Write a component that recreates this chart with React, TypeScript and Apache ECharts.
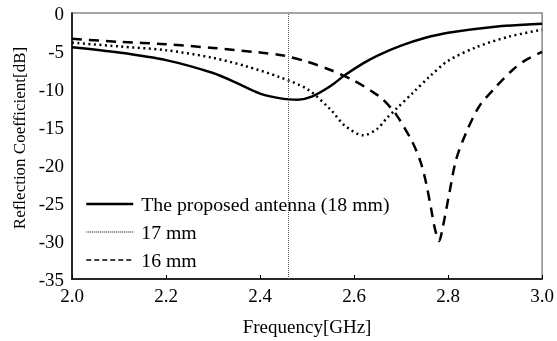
import React, { useEffect, useRef } from "react";
import * as echarts from "echarts";

const xTicks = [2.0, 2.2, 2.4, 2.6, 2.8, 3.0];
const seriesNames = ["The proposed antenna (18 mm)", "17 mm", "16 mm"];

const freq18 = [2.0, 2.1, 2.2, 2.3, 2.35, 2.4, 2.45, 2.48, 2.51, 2.55, 2.58, 2.62, 2.65, 2.7, 2.75, 2.8, 2.9, 3.0];
const s18 = [-4.5, -5.2, -6.2, -7.9, -9.2, -10.6, -11.3, -11.4, -11.0, -9.6, -8.2, -6.6, -5.6, -4.3, -3.3, -2.6, -1.8, -1.4];

const freq17 = [2.0, 2.1, 2.2, 2.3, 2.37, 2.44, 2.5, 2.55, 2.58, 2.62, 2.65, 2.67, 2.69, 2.725, 2.76, 2.8, 2.86, 2.93, 3.0];
const s17 = [-3.9, -4.4, -4.9, -5.9, -7.0, -8.4, -10.0, -12.7, -14.8, -16.1, -15.2, -13.8, -12.6, -10.5, -8.4, -6.3, -4.5, -3.1, -2.2];

const freq16 = [2.0, 2.1, 2.2, 2.3, 2.4, 2.45, 2.5, 2.55, 2.6, 2.64, 2.66, 2.69, 2.725, 2.742, 2.753, 2.764, 2.772, 2.781, 2.788, 2.803, 2.817, 2.838, 2.866, 2.902, 2.937, 2.965, 3.0];
const s16 = [-3.4, -3.8, -4.1, -4.6, -5.2, -5.6, -6.4, -7.5, -8.9, -10.4, -11.3, -13.4, -17.1, -19.7, -22.3, -25.8, -28.4, -30.0, -28.4, -23.6, -19.3, -15.8, -12.3, -9.7, -7.5, -6.2, -5.1];

const markerFreq = 2.455;

const zip = (xs: number[], ys: number[]) => xs.map((x, i) => [x, ys[i]]);

export default function App() {
  const ref = useRef<HTMLDivElement>(null);
  useEffect(() => {
    if (!ref.current) return;
    const chart = echarts.init(ref.current, null, { renderer: "svg" });
    const font = "Liberation Serif";
    chart.setOption({
      animation: false,
      textStyle: { fontFamily: font },
      grid: { left: 72, right: 14, top: 13, bottom: 61, show: true, borderColor: "#888", borderWidth: 1.5 },
      legend: {
        left: 85,
        top: 194,
        orient: "vertical",
        itemWidth: 47,
        itemHeight: 14,
        itemGap: 8,
        padding: 0,
        itemStyle: { opacity: 0 },
        textStyle: { fontFamily: font, fontSize: 19.8, lineHeight: 20, color: "#000", padding: [0, 0, 0, 3] },
        data: [
          { name: seriesNames[0], lineStyle: { width: 2.5, type: "solid" } },
          { name: seriesNames[1], lineStyle: { width: 1.2, type: [1, 1] } },
          { name: seriesNames[2], lineStyle: { width: 1.5, type: [5, 3] } },
        ],
      },
      xAxis: {
        type: "value",
        min: 2.0,
        max: 3.0,
        interval: 0.2,
        name: "Frequency[GHz]",
        nameLocation: "middle",
        nameGap: 38,
        nameTextStyle: { fontFamily: font, fontSize: 19, color: "#000" },
        axisLine: { onZero: false, lineStyle: { color: "#000", width: 1.5 } },
        axisTick: { inside: true, length: 4, lineStyle: { color: "#000" } },
        axisLabel: { fontFamily: font, fontSize: 19, color: "#000", margin: 7, formatter: (v: number) => v.toFixed(1) },
        splitLine: { show: false },
      },
      yAxis: {
        type: "value",
        min: -35,
        max: 0,
        interval: 5,
        name: "Reflection Coefficient[dB]",
        nameLocation: "middle",
        nameGap: 39,
        nameTextStyle: { fontFamily: font, fontSize: 17, color: "#000", padding: [0, 0, 0, 16] },
        axisLine: { show: true, lineStyle: { color: "#000", width: 1.5 } },
        axisTick: { show: false },
        axisLabel: { fontFamily: font, fontSize: 19, color: "#000", margin: 8 },
        splitLine: { show: false },
      },
      series: [
        {
          name: seriesNames[0],
          type: "line",
          smooth: 0.3,
          symbol: "none",
          data: zip(freq18, s18),
          lineStyle: { color: "#000", width: 2.5, type: "solid" },
          itemStyle: { color: "#000" },
          markLine: {
            silent: true,
            symbol: "none",
            label: { show: false },
            lineStyle: { color: "#555", width: 1, type: [1, 1] },
            data: [{ xAxis: markerFreq }],
          },
        },
        {
          name: seriesNames[1],
          type: "line",
          smooth: 0.3,
          symbol: "none",
          data: zip(freq17, s17),
          lineStyle: { color: "#000", width: 2.5, type: [2, 3.5] },
          itemStyle: { color: "#000" },
        },
        {
          name: seriesNames[2],
          type: "line",
          smooth: 0.3,
          symbol: "none",
          data: zip(freq16, s16),
          lineStyle: { color: "#000", width: 2.5, type: [10, 7] },
          itemStyle: { color: "#000" },
        },
      ],
    });
    return () => chart.dispose();
  }, []);
  return <div ref={ref} style={{ position: "fixed", left: 0, top: 0, width: 557, height: 341 }} />;
}
